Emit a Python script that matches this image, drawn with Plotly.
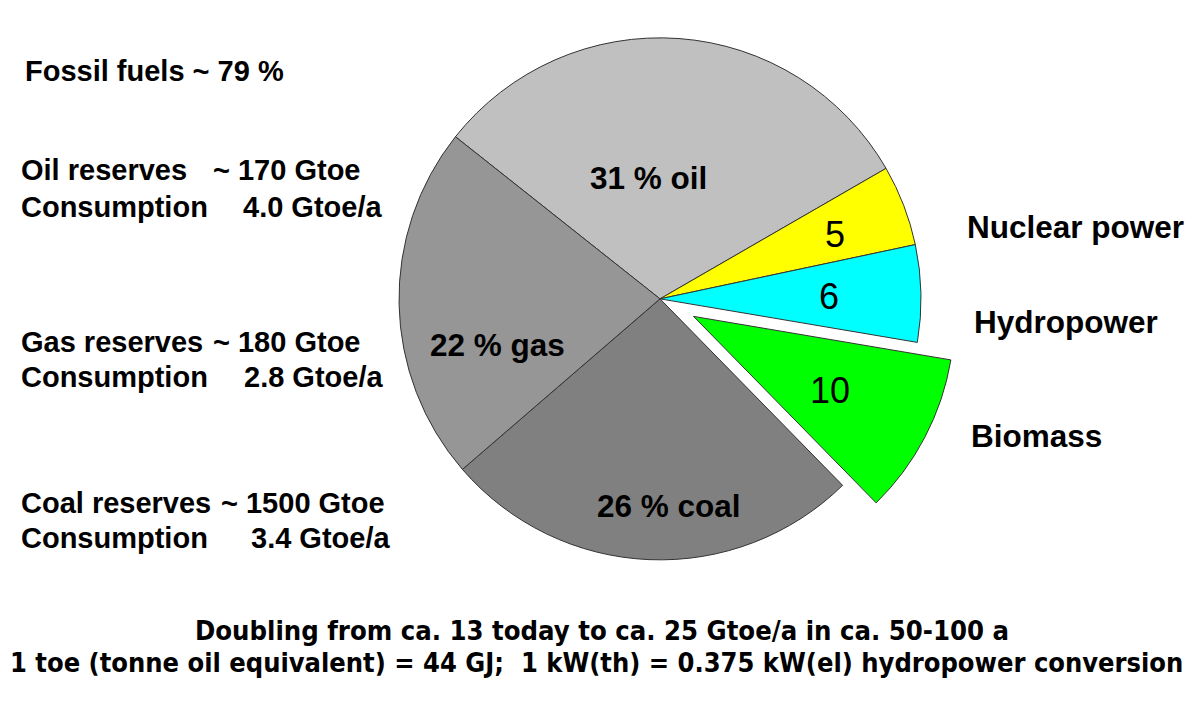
import plotly.graph_objects as go

# ---- data ----
slice_labels = ["oil", "nuclear power", "hydropower", "biomass", "coal", "gas"]
slice_values = [31, 5, 6, 10, 26, 22]
slice_texts = ["31 % oil", "5", "6", "10", "26 % coal", "22 % gas"]
slice_pull = [0, 0, 0, 0.145, 0, 0]
slice_colors = ["#C0C0C0", "#FFFF00", "#00FFFF", "#00FF00", "#808080", "#969696"]

fossil_header = "Fossil fuels ~ 79 %"
reserve_names = ["Oil reserves", "Gas reserves", "Coal reserves"]
reserve_values = ["~ 170 Gtoe", "~ 180 Gtoe", "~ 1500 Gtoe"]
consumption_name = "Consumption"
consumption_values = ["4.0 Gtoe/a", "2.8 Gtoe/a", "3.4 Gtoe/a"]
right_labels = ["Nuclear power", "Hydropower", "Biomass"]
footer_lines = [
    "Doubling from ca. 13 today to ca. 25 Gtoe/a in ca. 50-100 a",
    "1 toe (tonne oil equivalent) = 44 GJ;  1 kW(th) = 0.375 kW(el) hydropower conversion",
]

W, H = 1200, 724
FONT = "Liberation Sans, Arial, sans-serif"
NARROW = "Liberation Sans Narrow, Arial Narrow, DejaVu Sans Condensed, Liberation Sans, sans-serif"

fig = go.Figure()
fig.add_trace(go.Pie(
    labels=slice_labels,
    values=slice_values,
    sort=False,
    direction="clockwise",
    rotation=-51.6,
    pull=slice_pull,
    marker=dict(colors=slice_colors, line=dict(color="#333333", width=1)),
    textinfo="none",
    hoverinfo="label+value",
    showlegend=False,
    domain=dict(x=[0.300958, 0.799042], y=[0.174448, 1.0]),
))

def px(x):
    return x / W

def py(y):
    return 1 - y / H

ann = []

def add(text, x, y, size, xanchor="left", family=FONT, bold=True):
    ann.append(dict(
        text=text, x=px(x), y=py(y), xref="paper", yref="paper",
        xanchor=xanchor, yanchor="middle", showarrow=False,
        font=dict(family=family, size=size, color="black",
                  weight="bold" if bold else "normal"),
    ))

# slice labels
slice_pos = [(648, 178), (835, 235), (829, 297), (830, 390), (669, 506), (497, 345)]
for t, (x, y) in zip(slice_texts, slice_pos):
    single = t in ("5", "6", "10")
    add(t, x, y, 36 if single else 31.5, xanchor="center", bold=not single)

# left text block
add(fossil_header, 23, 71, 29)
row_y = [(170, 207), (342, 377), (503, 538)]
val_x = [211, 211, 219]
cons_x = [241, 242, 249]
for i in range(3):
    add(reserve_names[i], 19, row_y[i][0], 29)
    add(reserve_values[i], val_x[i], row_y[i][0], 29)
    add(consumption_name, 19, row_y[i][1], 29)
    add(consumption_values[i], cons_x[i], row_y[i][1], 29)

# right labels
right_pos = [(965, 227), (972, 322), (969, 436)]
for t, (x, y) in zip(right_labels, right_pos):
    add(t, x, y, 31.5)

# footer
add(footer_lines[0], 602, 630, 27.2, xanchor="center", family=NARROW)
add(footer_lines[1], 596, 662, 27, xanchor="center", family=NARROW)

fig.update_layout(
    width=W, height=H,
    margin=dict(l=0, r=0, t=0, b=0),
    paper_bgcolor="white", plot_bgcolor="white",
    annotations=ann,
    showlegend=False,
)

fig.write_html("out.html", config={"displayModeBar": False},
               post_script="document.body.style.margin='0px';")
